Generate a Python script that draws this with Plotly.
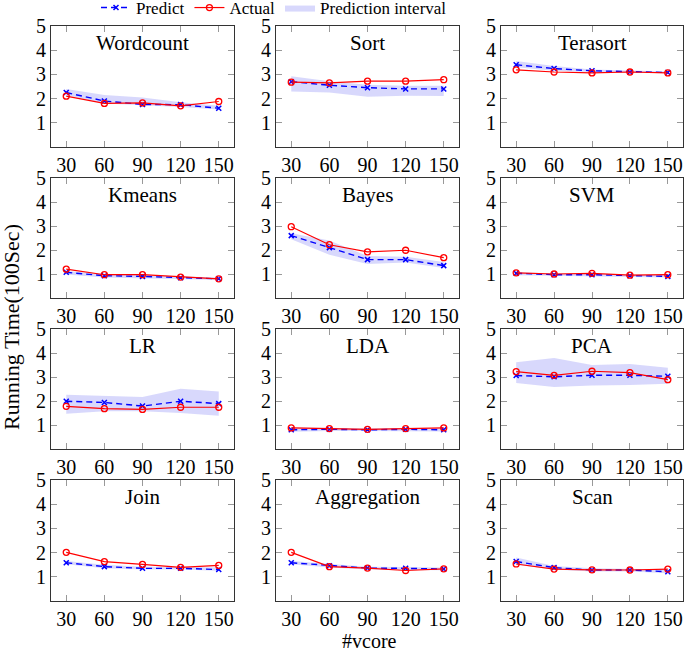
import plotly.graph_objects as go

vcores = [30, 60, 90, 120, 150]
titles = ["Wordcount", "Sort", "Terasort",
          "Kmeans", "Bayes", "SVM",
          "LR", "LDA", "PCA",
          "Join", "Aggregation", "Scan"]

# predicted running time (100 sec)
predict = [
    [2.25, 1.90, 1.76, 1.75, 1.60],
    [2.70, 2.55, 2.45, 2.40, 2.40],
    [3.40, 3.24, 3.15, 3.10, 3.08],
    [1.07, 0.93, 0.90, 0.84, 0.80],
    [2.60, 2.10, 1.60, 1.60, 1.35],
    [1.03, 0.97, 0.97, 0.93, 0.90],
    [1.99, 1.94, 1.79, 1.99, 1.89],
    [0.80, 0.82, 0.80, 0.82, 0.80],
    [3.06, 3.01, 3.07, 3.07, 3.03],
    [1.58, 1.42, 1.35, 1.35, 1.30],
    [1.58, 1.46, 1.36, 1.35, 1.32],
    [1.63, 1.38, 1.28, 1.28, 1.21],
]
# measured running time
actual = [
    [2.10, 1.80, 1.82, 1.70, 1.88],
    [2.68, 2.65, 2.72, 2.72, 2.78],
    [3.19, 3.10, 3.06, 3.10, 3.06],
    [1.20, 0.97, 0.97, 0.87, 0.80],
    [2.97, 2.22, 1.92, 1.99, 1.68],
    [1.05, 1.00, 1.03, 0.95, 0.97],
    [1.78, 1.68, 1.65, 1.74, 1.74],
    [0.88, 0.85, 0.82, 0.85, 0.88],
    [3.22, 3.07, 3.24, 3.18, 2.89],
    [2.01, 1.63, 1.51, 1.39, 1.47],
    [2.01, 1.42, 1.36, 1.26, 1.33],
    [1.53, 1.32, 1.29, 1.28, 1.32],
]
# prediction interval bounds
upper = [
    [2.40, 2.15, 2.05, 1.85, 1.70],
    [2.92, 2.72, 2.57, 2.53, 2.53],
    [3.55, 3.35, 3.20, 3.15, 3.12],
    [1.12, 1.00, 0.95, 0.90, 0.85],
    [2.70, 2.40, 1.75, 1.72, 1.50],
    [1.08, 1.02, 1.00, 0.97, 0.95],
    [2.26, 2.22, 2.17, 2.51, 2.40],
    [0.90, 0.88, 0.86, 0.88, 0.88],
    [3.61, 3.79, 3.50, 3.54, 3.39],
    [1.65, 1.50, 1.42, 1.42, 1.38],
    [1.65, 1.52, 1.42, 1.40, 1.38],
    [1.80, 1.45, 1.35, 1.33, 1.30],
]
lower = [
    [2.15, 1.80, 1.72, 1.65, 1.55],
    [2.29, 2.25, 2.08, 2.12, 2.11],
    [3.30, 3.15, 3.10, 3.07, 3.05],
    [0.98, 0.85, 0.83, 0.78, 0.75],
    [2.45, 1.80, 1.42, 1.48, 1.25],
    [0.95, 0.90, 0.90, 0.87, 0.85],
    [1.47, 1.57, 1.57, 1.50, 1.39],
    [0.72, 0.75, 0.75, 0.75, 0.73],
    [2.75, 2.58, 2.65, 2.67, 2.72],
    [1.52, 1.35, 1.30, 1.30, 1.25],
    [1.52, 1.38, 1.30, 1.28, 1.27],
    [1.50, 1.30, 1.22, 1.22, 1.15],
]

W, H = 685, 653
FONT = "Liberation Serif"
col_px = [(51, 234), (276, 459), (501, 683)]
row_px = [(26, 147), (178, 298), (329, 449), (480, 601)]


def px_x(p):
    return p / W


def px_y(p):
    return 1 - p / H


fig = go.Figure()
layout = {}
for i, name in enumerate(titles):
    r, c = divmod(i, 3)
    n = i + 1
    xa = "x" if n == 1 else f"x{n}"
    ya = "y" if n == 1 else f"y{n}"
    first = i == 0

    fig.add_trace(go.Scatter(
        x=vcores + vcores[::-1], y=upper[i] + lower[i][::-1],
        fill="toself", fillcolor="rgba(60,60,240,0.2)", line=dict(width=0),
        mode="lines", name="Prediction interval", showlegend=first,
        legendrank=3, hoverinfo="skip", xaxis=xa, yaxis=ya))
    fig.add_trace(go.Scatter(
        x=vcores, y=predict[i], mode="lines+markers", name="Predict",
        line=dict(color="blue", width=1.4, dash="6px,4px"),
        marker=dict(symbol="x-thin", size=5, line=dict(color="blue", width=1.5)),
        showlegend=first, legendrank=1, xaxis=xa, yaxis=ya))
    fig.add_trace(go.Scatter(
        x=vcores, y=actual[i], mode="lines+markers", name="Actual",
        line=dict(color="red", width=1.2),
        marker=dict(symbol="circle-open", size=6, color="red", line=dict(width=1.3)),
        showlegend=first, legendrank=2, xaxis=xa, yaxis=ya))

    x0, x1 = col_px[c]
    y0, y1 = row_px[r]
    common = dict(showline=True, linecolor="#333", linewidth=1, mirror="ticks",
                  ticks="inside", ticklen=6, tickcolor="#999", tickwidth=1,
                  showgrid=False, zeroline=False, automargin=False,
                  tickfont=dict(family=FONT, size=20, color="black"))
    layout["xaxis" if n == 1 else f"xaxis{n}"] = dict(
        domain=[px_x(x0), px_x(x1)], anchor=ya, range=[18, 162],
        tickvals=vcores, **common)
    layout["yaxis" if n == 1 else f"yaxis{n}"] = dict(
        domain=[px_y(y1), px_y(y0)], anchor=xa, range=[0, 5],
        tickvals=[1, 2, 3, 4, 5], **common)
    fig.add_annotation(text=name, x=0.5, y=0.86, xref=f"{xa} domain",
                       yref=f"{ya} domain", xanchor="center", yanchor="middle",
                       showarrow=False,
                       font=dict(family=FONT, size=21, color="black"))

fig.add_annotation(text="Running Time(100Sec)", textangle=-90, x=px_x(12),
                   y=px_y(327), xref="paper", yref="paper", xanchor="center",
                   yanchor="middle", showarrow=False,
                   font=dict(family=FONT, size=22, color="black"))
fig.add_annotation(text="#vcore", x=px_x(369), y=px_y(641), xref="paper",
                   yref="paper", xanchor="center", yanchor="middle",
                   showarrow=False,
                   font=dict(family=FONT, size=20, color="black"))

fig.update_layout(
    width=W, height=H,
    margin=dict(l=0, r=0, t=0, b=0, autoexpand=False),
    plot_bgcolor="white", paper_bgcolor="white",
    legend=dict(orientation="h", x=px_x(96), y=1 + 10 / H, xanchor="left",
                yanchor="top",
                font=dict(family=FONT, size=17, color="black"),
                bgcolor="rgba(0,0,0,0)", itemwidth=30, tracegroupgap=0),
    **layout)

fig.write_html("out.html", config={"displayModeBar": False},
               post_script="document.body.style.margin='0';")
